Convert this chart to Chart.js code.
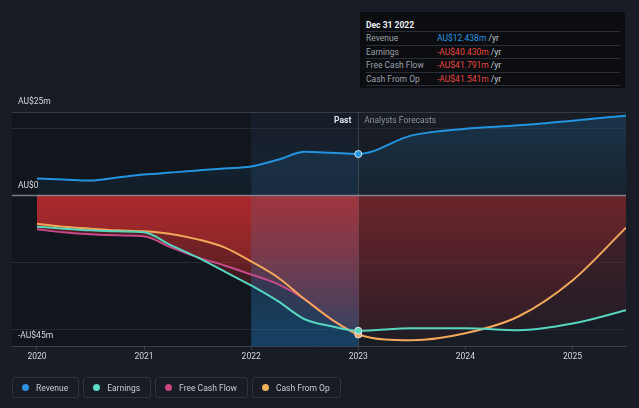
<!DOCTYPE html>
<html><head><meta charset="utf-8">
<script src="https://cdn.jsdelivr.net/npm/chart.js@4.4.1/dist/chart.umd.min.js"></script>
<style>
html,body{margin:0;padding:0;background:#171c25;width:639px;height:408px;overflow:hidden;font-family:Roboto,"Noto Sans",sans-serif;}
#wrap{position:relative;width:639px;height:408px;}
#c{position:absolute;left:0;top:0;}
.tt{position:absolute;left:360px;top:12px;width:265px;height:76px;background:#0b0d11;box-sizing:border-box;padding:0 5px 0 6px;font-size:8.5px;}
.tth{height:20px;padding-top:6px;line-height:14px;box-sizing:border-box;font-weight:bold;color:#eef0f3;border-bottom:1px solid #2a2e36;}
.tr{height:13.5px;line-height:12.5px;box-sizing:border-box;border-bottom:1px solid #2a2e36;display:flex;}
.tl{width:71px;color:#9aa0a8;}
.tv{color:#c8ccd2;}
.legend{position:absolute;left:12px;top:377px;display:flex;gap:4px;}
.li{height:21px;box-sizing:border-box;border:1px solid #2e343e;border-radius:3px;padding:0 10px 0 9px;display:flex;align-items:center;font-size:8.5px;color:#c6cad1;}
.dot{width:7px;height:7px;border-radius:50%;margin-right:7px;}
</style>
</head><body>
<div id="wrap">
<canvas id="c" width="639" height="408"></canvas>
<div class="tt">
 <div class="tth">Dec 31 2022</div>
 <div class="tr"><span class="tl">Revenue</span><span class="tv"><span style="color:#2b95e0">AU$12.438m</span> /yr</span></div>
 <div class="tr"><span class="tl">Earnings</span><span class="tv"><span style="color:#e8483f">-AU$40.430m</span> /yr</span></div>
 <div class="tr"><span class="tl">Free Cash Flow</span><span class="tv"><span style="color:#e8483f">-AU$41.791m</span> /yr</span></div>
 <div class="tr"><span class="tl">Cash From Op</span><span class="tv"><span style="color:#e8483f">-AU$41.541m</span> /yr</span></div>
</div>
<div class="legend">
 <div class="li"><span class="dot" style="background:#2f8fe0"></span>Revenue</div>
 <div class="li"><span class="dot" style="background:#5fd9c2"></span>Earnings</div>
 <div class="li"><span class="dot" style="background:#c8457f"></span>Free Cash Flow</div>
 <div class="li"><span class="dot" style="background:#f0b060"></span>Cash From Op</div>
</div>
</div>
<script>
const pastYears = [2020,2020.25,2020.5,2020.75,2021,2021.25,2021.5,2021.75,2022,2022.25,2022.5,2022.75,2023];
const forecastYears = [2023.5,2024,2024.5,2025,2025.5];
const revenuePast = [5.1,4.8,4.5,5.4,6.3,6.9,7.5,8.1,8.7,10.7,13.1,12.8,12.438];
const revenueForecast = [18.0,20.0,21.0,22.4,23.9];
const earningsPast = [-9.3,-9.9,-10.4,-10.7,-11.0,-14.8,-18.5,-22.7,-26.9,-31.6,-37.0,-39.1,-40.43];
const earningsForecast = [-39.7,-39.7,-40.3,-38.3,-34.3];
const fcfPast = [-10.1,-11.0,-11.6,-11.9,-12.2,-15.5,-18.5,-20.9,-23.6,-26.5,-31.0,-37.1,-41.791];
const cfoPast = [-8.4,-9.3,-9.9,-10.4,-10.7,-11.5,-13.1,-15.5,-19.7,-24.5,-31.0,-37.0,-41.541];
const cfoForecast = [-43.3,-41.2,-36.1,-25.4,-9.6];
const xTicks = [2020,2021,2022,2023,2024,2025];
const yTicks = [-45,-40,-20,0,20,25];
const yLabels = {'25':'AU$25m','0':'AU$0','-45':'-AU$45m'};

const toPts = (xs, ys) => xs.map((x,i)=>({x:x, y:ys[i]}));

let redPat=null, patKey='';
function redFill(context){
  const chart=context.chart, a=chart.chartArea;
  if(!a || !chart.scales.x) return 'rgba(0,0,0,0)';
  const key=[a.left,a.top,a.right,a.bottom].join(',');
  if(redPat && patKey===key) return redPat;
  const c=document.createElement('canvas'); c.width=chart.width; c.height=chart.height;
  const g=c.getContext('2d');
  const x23=chart.scales.x.getPixelForValue(2023), y0=chart.scales.y.getPixelForValue(0);
  g.fillStyle='rgba(212,48,48,0.4)'; g.fillRect(0,0,x23,c.height);
  g.fillStyle='rgba(170,42,48,0.34)'; g.fillRect(x23,0,c.width-x23,c.height);
  g.globalCompositeOperation='destination-in';
  const vg=g.createLinearGradient(0,y0,0,a.bottom);
  vg.addColorStop(0,'rgba(0,0,0,1)'); vg.addColorStop(1,'rgba(0,0,0,0.15)');
  g.fillStyle=vg; g.fillRect(0,0,c.width,c.height);
  redPat=chart.ctx.createPattern(c,'no-repeat'); patKey=key;
  return redPat;
}
function blueFill(context){
  const chart=context.chart, a=chart.chartArea;
  if(!a || !chart.scales.y) return 'rgba(0,0,0,0)';
  const y0=chart.scales.y.getPixelForValue(0);
  const g=chart.ctx.createLinearGradient(0,a.top,0,y0);
  g.addColorStop(0,'rgba(35,148,223,0.2)'); g.addColorStop(1,'rgba(35,148,223,0.05)');
  return g;
}
const pr = c => (c.raw && c.raw.x===2023) ? 3.5 : 0;

const bgPlugin={
  id:'bgPlugin',
  beforeDraw(chart){
    const {ctx, chartArea:a, scales:{x}}=chart;
    ctx.save();
    ctx.fillStyle='#171c25'; ctx.fillRect(0,0,chart.width,chart.height);
    const x22=x.getPixelForValue(2022), x23=x.getPixelForValue(2023);
    ctx.fillStyle='#11151c'; ctx.fillRect(a.left,a.top,x22-a.left,a.bottom-a.top);
    ctx.fillStyle='#141922'; ctx.fillRect(x22,a.top,x23-x22,a.bottom-a.top);
    ctx.restore();
  },
  beforeDatasetsDraw(chart){
    const {ctx, chartArea:a, scales:{x,y}}=chart;
    const x22=x.getPixelForValue(2022), x23=x.getPixelForValue(2023), y0=y.getPixelForValue(0);
    ctx.save();
    const g=ctx.createLinearGradient(0,a.top,0,a.bottom);
    g.addColorStop(0,'rgba(60,130,200,0.03)'); g.addColorStop(0.45,'rgba(60,140,210,0.14)'); g.addColorStop(1,'rgba(25,140,225,0.34)');
    ctx.fillStyle=g; ctx.fillRect(x22,a.top,x23-x22,a.bottom-a.top);
    ctx.strokeStyle='rgba(140,146,156,0.85)'; ctx.lineWidth=1.5;
    ctx.beginPath(); ctx.moveTo(a.left,y0); ctx.lineTo(a.right,y0); ctx.stroke();
    ctx.strokeStyle='rgba(255,255,255,0.14)'; ctx.lineWidth=1;
    ctx.beginPath(); ctx.moveTo(Math.round(x23)+0.5,a.top); ctx.lineTo(Math.round(x23)+0.5,a.bottom); ctx.stroke();
    ctx.textBaseline='middle';
    ctx.font='bold 8.5px Roboto'; ctx.textAlign='right'; ctx.fillStyle='#e1e4e8';
    ctx.fillText('Past', x23-7, a.top+9);
    ctx.font='8.5px Roboto'; ctx.textAlign='left'; ctx.fillStyle='#8b929b';
    ctx.fillText('Analysts Forecasts', x23+6, a.top+9);
    ctx.restore();
  }
};

const common={borderWidth:2, cubicInterpolationMode:'monotone', pointRadius:pr, pointHoverRadius:0, pointBorderColor:'#dfe6ee', pointBorderWidth:1, fill:'origin'};

new Chart(document.getElementById('c'),{
  type:'line',
  data:{datasets:[
    Object.assign({label:'Revenue', order:0, data:toPts(pastYears,revenuePast).concat(toPts(forecastYears,revenueForecast)), borderColor:'#2394df', pointBackgroundColor:'#2394df', backgroundColor:blueFill},common),
    Object.assign({label:'Earnings', order:1, data:toPts(pastYears,earningsPast).concat(toPts(forecastYears,earningsForecast)), borderColor:'#58d5bf', pointBackgroundColor:'#58d5bf', backgroundColor:redFill},common),
    Object.assign({label:'Free Cash Flow', order:3, data:toPts(pastYears,fcfPast), borderColor:'#c44a8a', pointBackgroundColor:'#c44a8a', backgroundColor:redFill},common,{pointRadius:0}),
    Object.assign({label:'Cash From Op', order:2, data:toPts(pastYears,cfoPast).concat(toPts(forecastYears,cfoForecast)), borderColor:'#f2a85a', pointBackgroundColor:'#f2a85a', backgroundColor:redFill},common)
  ]},
  options:{
    responsive:false, animation:false, devicePixelRatio:1,
    layout:{padding:{top:112,left:12,right:13,bottom:0}},
    plugins:{legend:{display:false}, tooltip:{enabled:false}, filler:{drawTime:'beforeDatasetsDraw'}},
    scales:{
      x:{type:'linear', min:2019.767, max:2025.5,
        afterBuildTicks(s){ s.ticks=xTicks.map(v=>({value:v})); },
        afterFit(s){ s.height=62; },
        grid:{drawOnChartArea:false, drawTicks:true, tickLength:4, color:'#3a3f49'},
        border:{display:true, color:'#3a3f49', width:1},
        ticks:{color:'#d5d8dd', padding:2, maxRotation:0, font:{size:8.5, family:'Roboto'}, callback:v=>String(v)}
      },
      y:{type:'linear', min:-45, max:25,
        afterBuildTicks(s){ s.ticks=yTicks.map(v=>({value:v})); },
        afterFit(s){ s.width=0; },
        grid:{drawTicks:false, color:c=>{ const v=c.tick&&c.tick.value; if(v===0||v===-45) return 'rgba(0,0,0,0)'; if(v===25) return '#343944'; return '#242932'; }},
        border:{display:false},
        ticks:{mirror:true, padding:6, labelOffset:-10, color:'#d5d8dd', font:{size:8.5, family:'Roboto'}, callback:v=>(yLabels[String(v)]||'')}
      }
    }
  },
  plugins:[bgPlugin]
});
</script>
</body></html>
